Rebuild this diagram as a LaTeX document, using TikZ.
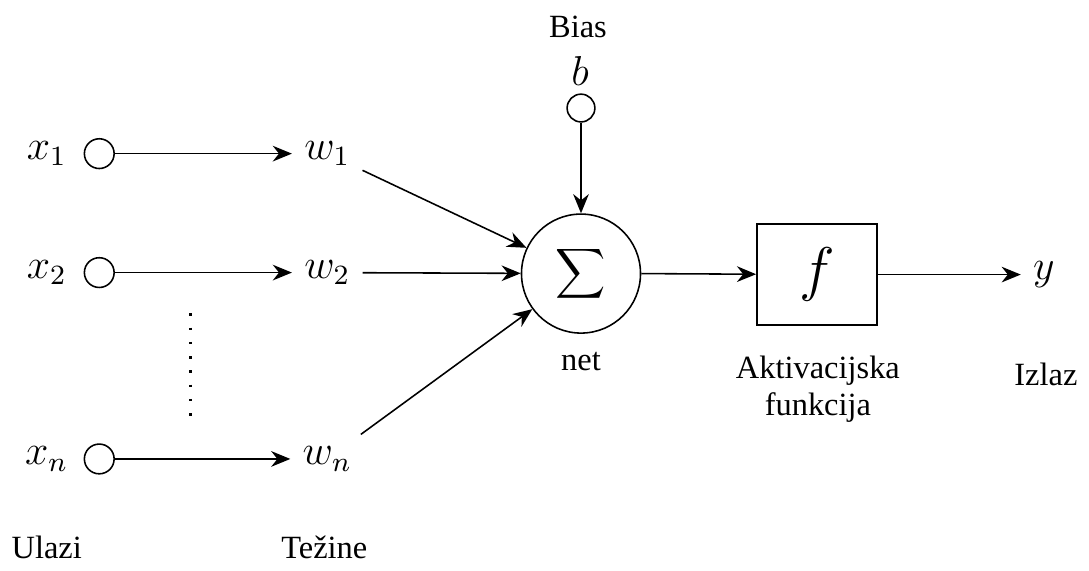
\documentclass[tikz,border=0pt]{standalone}
\usepackage{fontspec}
\setmainfont{Liberation Serif}
\usetikzlibrary{arrows.meta}

\begin{document}
\begin{tikzpicture}[x=0.01cm,y=-0.01cm,font=\fontsize{9.3}{10.6}\selectfont,
  >={Stealth[length=5.5pt,width=4.5pt]},line width=0.45pt]
  \tikzset{
    inpcirc/.style={draw,circle,minimum size=0.30cm,inner sep=0pt},
    var/.style={font=\fontsize{12}{13}\selectfont},
  }
  \foreach \yy/\ii in {155/1,275/2,463/n}{
    \node[var] (x\ii) at (42,\yy) {$x_{\ii}$};
    \node[inpcirc] (c\ii) at (95,\yy) {};
    \node[var] (w\ii) at (325,\yy) {$w_{\ii}$};
    \draw[->] (c\ii) -- (w\ii);
  }
  \coordinate (dtop) at (187,316);
  \coordinate (dbot) at (187,424);
  \draw[line width=0.8pt,dash pattern=on 0.7pt off 3.4pt] (dtop) -- (dbot);
  \node (ulazi) at (42,552) {Ulazi};
  \node (tezine) at (322,552) {Težine};
  % neuron
  \node[draw,circle,minimum size=1.2cm,inner sep=0pt] (sum) at (581,276)
    {\fontsize{12}{14}\selectfont$\displaystyle\sum$};
  \node (net) at (581,365) {net};
  \node (biaslab) at (578,27) {Bias};
  \node[var] (b) at (580,72) {$b$};
  \node[draw,circle,minimum size=0.28cm,inner sep=0pt] (bc) at (581,109) {};
  \draw[->] (bc) -- (sum);
  \foreach \ii in {1,2,n}{\draw[->] (w\ii) -- (sum);}
  % activation
  \node[draw,minimum width=1.21cm,minimum height=1.02cm] (act) at (819,277)
    {\fontsize{19}{20}\selectfont$f$};
  \node[align=center] (actlab) at (820,393) {Aktivacijska\\funkcija};
  \node[var] (y) at (1048,277) {$y$};
  \node (izlaz) at (1050,378) {Izlaz};
  \draw[->] (sum.east) -- (act);
  \draw[->] (act) -- (y);
  \path[use as bounding box] (0,0) rectangle (1089,570);
\end{tikzpicture}
\end{document}
